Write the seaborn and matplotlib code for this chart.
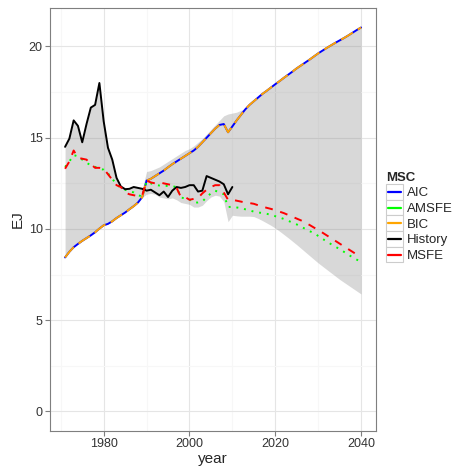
import pandas as pd
import seaborn as sns
import matplotlib.pyplot as plt
from matplotlib.lines import Line2D
from matplotlib.patches import Rectangle
from matplotlib.legend_handler import HandlerBase

# data
years = list(range(1971, 2041))
hist_years = list(range(1971, 2011))

history = [14.5, 14.95, 15.95, 15.65, 14.75, 15.75, 16.65, 16.8, 18.0, 15.9,
           14.45, 13.8, 12.8, 12.33, 12.18, 12.2, 12.3, 12.25, 12.2, 12.1,
           12.15, 12.0, 11.85, 12.05, 11.75, 12.1, 12.3, 12.25, 12.3, 12.4,
           12.4, 12.05, 12.1, 12.9, 12.8, 12.7, 12.6, 12.45, 11.9, 12.3]

aic = [8.44, 8.75, 9.0, 9.18, 9.35, 9.5, 9.65, 9.82, 10.02, 10.2,
       10.28, 10.42, 10.6, 10.75, 10.9, 11.08, 11.25, 11.45, 11.75, 12.65,
       12.75, 12.9, 13.05, 13.2, 13.38, 13.55, 13.7, 13.85, 14.0, 14.15,
       14.3, 14.5, 14.75, 15.0, 15.25, 15.5, 15.7, 15.75, 15.3, 15.62,
       15.95, 16.25, 16.55, 16.8, 17.0, 17.2, 17.4, 17.57, 17.75, 17.93,
       18.1, 18.28, 18.45, 18.62, 18.8, 18.96, 19.12, 19.28, 19.45, 19.62,
       19.77, 19.92, 20.06, 20.2, 20.33, 20.46, 20.6, 20.75, 20.9, 21.04]

bic = [8.44, 8.75, 9.0, 9.18, 9.35, 9.5, 9.65, 9.82, 10.02, 10.2,
       10.28, 10.42, 10.6, 10.75, 10.9, 11.08, 11.25, 11.45, 11.75, 12.65,
       12.75, 12.9, 13.05, 13.2, 13.38, 13.55, 13.7, 13.85, 14.0, 14.15,
       14.3, 14.5, 14.75, 15.0, 15.25, 15.5, 15.7, 15.75, 15.3, 15.62,
       15.95, 16.25, 16.55, 16.8, 17.0, 17.2, 17.4, 17.57, 17.75, 17.93,
       18.1, 18.28, 18.45, 18.62, 18.8, 18.96, 19.12, 19.28, 19.45, 19.62,
       19.77, 19.92, 20.06, 20.2, 20.33, 20.46, 20.6, 20.75, 20.9, 21.04]

msfe = [13.3, 13.7, 14.3, 13.9, 13.85, 13.8, 13.55, 13.35, 13.35, 13.3,
        13.0, 12.7, 12.4, 12.3, 12.0, 11.9, 11.85, 11.8, 11.85, 12.65,
        12.55, 12.5, 12.55, 12.5, 12.45, 12.4, 12.25, 11.75, 11.75, 11.6,
        11.65, 11.7, 11.95, 12.15, 12.3, 12.4, 12.4, 12.0, 11.6, 11.6,
        11.55, 11.5, 11.45, 11.42, 11.38, 11.3, 11.23, 11.16, 11.1, 11.03,
        10.95, 10.87, 10.77, 10.67, 10.57, 10.47, 10.35, 10.22, 10.08, 9.95,
        9.8, 9.65, 9.5, 9.35, 9.2, 9.05, 8.9, 8.75, 8.6, 8.45]

amsfe = [13.4, 13.7, 14.05, 13.98, 13.8, 13.62, 13.5, 13.4, 13.3, 13.25,
         13.05, 12.75, 12.45, 12.25, 12.15, 12.08, 12.0, 11.85, 11.78, 12.6,
         12.5, 12.42, 12.38, 12.36, 12.36, 12.34, 12.3, 11.72, 11.68, 11.62,
         11.45, 11.45, 11.5, 11.75, 11.95, 12.1, 12.0, 11.9, 11.2, 11.22,
         11.18, 11.14, 11.08, 11.02, 10.95, 10.9, 10.88, 10.83, 10.78, 10.7,
         10.63, 10.55, 10.45, 10.35, 10.25, 10.14, 10.0, 9.88, 9.78, 9.62,
         9.46, 9.32, 9.17, 9.03, 8.9, 8.75, 8.6, 8.45, 8.32, 8.2]

band_low = [8.44, 8.75, 9.0, 9.18, 9.35, 9.5, 9.65, 9.82, 10.02, 10.2,
            10.28, 10.42, 10.6, 10.75, 10.9, 11.08, 11.25, 11.45, 11.75, 11.9,
            11.95, 11.9, 11.75, 11.7, 11.65, 11.7, 11.6, 11.45, 11.4, 11.35,
            11.2, 11.2, 11.3, 11.55, 11.75, 11.85, 11.8, 11.5, 10.4, 10.75,
            10.72, 10.7, 10.7, 10.7, 10.68, 10.58, 10.46, 10.33, 10.2, 10.05,
            9.88, 9.7, 9.52, 9.33, 9.14, 8.94, 8.74, 8.54, 8.34, 8.14,
            7.96, 7.78, 7.6, 7.42, 7.24, 7.08, 6.92, 6.76, 6.6, 6.44]

band_high = [14.5, 14.95, 15.95, 15.65, 14.75, 15.75, 16.65, 16.8, 18.0, 15.9,
             14.45, 13.8, 12.8, 12.33, 12.18, 12.2, 12.3, 12.25, 12.2, 13.15,
             13.2, 13.3, 13.4, 13.55, 13.7, 13.85, 14.0, 14.15, 14.3, 14.4,
             14.55, 14.75, 14.95, 15.2, 15.45, 15.7, 15.95, 16.2, 16.3, 16.35,
             16.4, 16.5, 16.6, 16.8, 17.0, 17.2, 17.4, 17.57, 17.75, 17.93,
             18.1, 18.28, 18.45, 18.62, 18.8, 18.96, 19.12, 19.28, 19.45, 19.62,
             19.77, 19.92, 20.06, 20.2, 20.33, 20.46, 20.6, 20.75, 20.9, 21.04]

msc_order = ['AIC', 'AMSFE', 'BIC', 'History', 'MSFE']
palette = {'AIC': '#0000FF', 'AMSFE': '#00FF00', 'BIC': '#FFA500',
           'History': '#000000', 'MSFE': '#FF0000'}
dashes = {'AIC': '', 'AMSFE': (1, 3), 'BIC': (7, 3), 'History': '', 'MSFE': (4, 4)}

df = pd.concat([
    pd.DataFrame({'year': years, 'EJ': aic, 'MSC': 'AIC'}),
    pd.DataFrame({'year': years, 'EJ': amsfe, 'MSC': 'AMSFE'}),
    pd.DataFrame({'year': years, 'EJ': bic, 'MSC': 'BIC'}),
    pd.DataFrame({'year': hist_years, 'EJ': history, 'MSC': 'History'}),
    pd.DataFrame({'year': years, 'EJ': msfe, 'MSC': 'MSFE'}),
], ignore_index=True)

sns.set_theme(style='white')
plt.rcParams['font.family'] = ['Liberation Sans', 'DejaVu Sans']

fig = plt.figure(figsize=(4.55, 4.71), dpi=100)
ax = fig.add_axes([0.1105, 0.0856, 0.7155, 0.8968])

# shaded band
ax.fill_between(years, band_low, band_high, color='#7F7F7F', alpha=0.3, linewidth=0, zorder=1)

sns.lineplot(data=df, x='year', y='EJ', hue='MSC', style='MSC',
             hue_order=msc_order, style_order=msc_order,
             palette=palette, dashes=dashes, linewidth=1.4,
             legend=False, ax=ax)

# axes look (ggplot theme_bw)
ax.set_xlim(1967.55, 2043.45)
ax.set_ylim(-1.052, 22.092)
ax.set_xticks([1980, 2000, 2020, 2040])
ax.set_xticks([1970, 1990, 2010, 2030], minor=True)
ax.set_yticks([0, 5, 10, 15, 20])
ax.set_yticks([2.5, 7.5, 12.5, 17.5], minor=True)
ax.set_axisbelow(True)
ax.grid(which='major', color='#E5E5E5', linewidth=0.8)
ax.grid(which='minor', color='#F7F7F7', linewidth=0.8)
for sp in ax.spines.values():
    sp.set_color('#7F7F7F')
    sp.set_linewidth(0.8)
ax.tick_params(which='major', length=3.5, width=0.8, color='#7F7F7F',
               labelsize=9, labelcolor='#333333', pad=2,
               bottom=True, left=True)
ax.tick_params(which='minor', length=0)
ax.set_xlabel('year', fontsize=11, labelpad=1)
ax.set_ylabel('EJ', fontsize=11, labelpad=3)


# legend keys drawn like ggplot: grey box with a line inside
class KeyHandler(HandlerBase):
    def create_artists(self, legend, orig_handle, xdescent, ydescent,
                       width, height, fontsize, trans):
        box = Rectangle((-xdescent, -ydescent), width, height, facecolor='white',
                        edgecolor='#CCCCCC', linewidth=0.8, transform=trans)
        line = Line2D([-xdescent + 1.5, width - xdescent - 1.5],
                      [height / 2 - ydescent] * 2,
                      color=orig_handle.get_color(), linewidth=1.6, transform=trans)
        return [box, line]


handles = [Line2D([], [], color=palette[k]) for k in msc_order]
leg = fig.legend(handles, msc_order, handler_map={Line2D: KeyHandler()},
                 loc='upper left', bbox_to_anchor=(386 / 455, 1 - 172 / 471),
                 frameon=False, title='MSC', fontsize=9.5, title_fontsize=9.5,
                 handlelength=1.3, handleheight=1.45, handletextpad=0.3,
                 labelspacing=0.0, borderpad=0, borderaxespad=0, alignment='left')
leg.get_title().set_fontweight('bold')

fig.savefig('out.png', dpi=100)
